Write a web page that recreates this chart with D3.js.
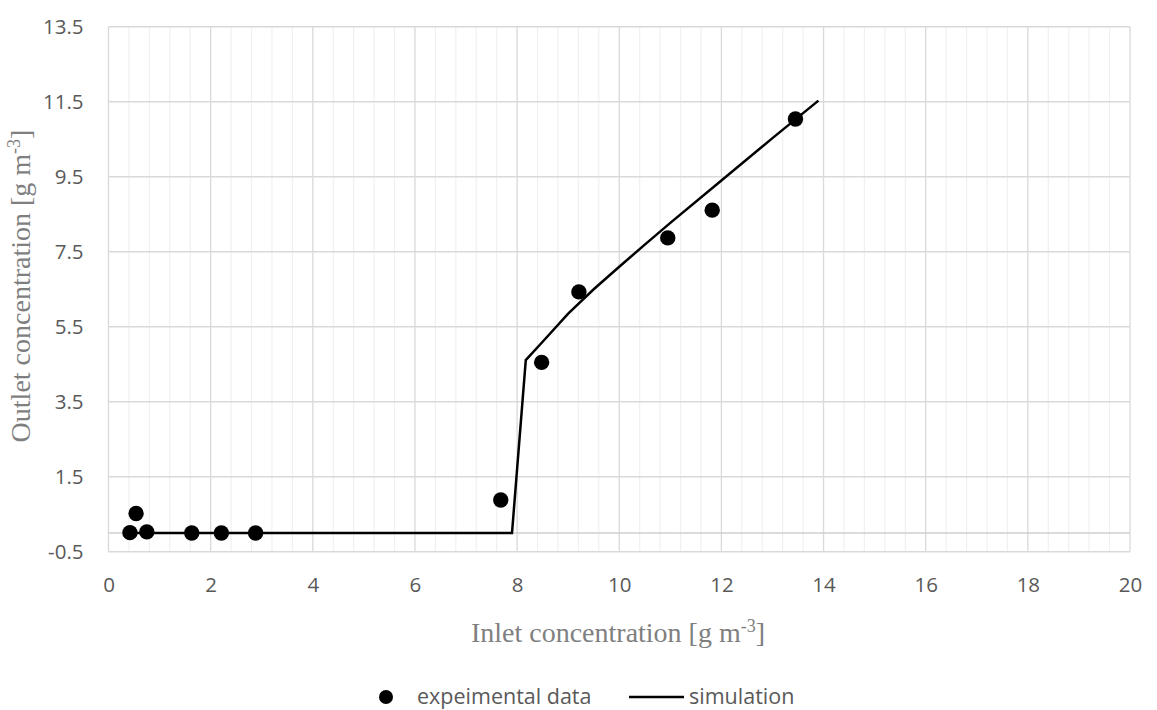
<!DOCTYPE html>
<html>
<head>
<meta charset="utf-8">
<script src="https://cdn.jsdelivr.net/npm/d3@7"></script>
<style>
  html, body { margin: 0; padding: 0; background: #fff; }
  svg { display: block; }
</style>
</head>
<body>
<svg id="chart" width="1157" height="710"></svg>
<script>
// Experimental measurements: inlet vs outlet concentration (g m^-3)
const expInlet  = [0.42, 0.54, 0.75, 1.63, 2.21, 2.88, 7.68, 8.48, 9.21, 10.95, 11.82, 13.45];
const expOutlet = [0.01, 0.52, 0.03, 0.00, 0.00, 0.00, 0.88, 4.55, 6.43, 7.87, 8.61, 11.04];

// Model simulation curve
const simInlet  = [0.42, 7.90, 8.17, 8.50, 9.00, 9.50, 10.00, 10.50, 11.00, 12.00, 13.00, 13.90];
const simOutlet = [0.00, 0.00, 4.61, 5.10, 5.85, 6.50, 7.10, 7.69, 8.27, 9.40, 10.53, 11.53];

// Axis ticks
const xTicks = [0, 2, 4, 6, 8, 10, 12, 14, 16, 18, 20];
const yTicks = [-0.5, 1.5, 3.5, 5.5, 7.5, 9.5, 11.5, 13.5];
const xMinorStep = 0.4;

const svg = d3.select("#chart");
const x = d3.scaleLinear().domain([0, 20]).range([108.5, 1130]);
const y = d3.scaleLinear().domain([-0.5, 13.5]).range([551.75, 26.75]);

const tickFont = "'Open Sans', 'Noto Sans', sans-serif";
const serif = "'Liberation Serif', 'Times New Roman', serif";
// Plain hyphen for negative numbers
const fmtY = d => d3.format(".1f")(d).replace("\u2212", "-");

// Minor vertical gridlines
const minor = d3.range(0, 20 + 1e-9, xMinorStep).filter(v => Math.abs(v / 2 - Math.round(v / 2)) > 1e-6);
svg.append("g").selectAll("line").data(minor).join("line")
  .attr("x1", d => x(d)).attr("x2", d => x(d))
  .attr("y1", y(13.5)).attr("y2", y(-0.5))
  .attr("stroke", "#f0f0f0").attr("stroke-width", 1.2);

// Major gridlines
svg.append("g").selectAll("line").data(xTicks).join("line")
  .attr("x1", d => x(d)).attr("x2", d => x(d))
  .attr("y1", y(13.5)).attr("y2", y(-0.5))
  .attr("stroke", "#d9d9d9").attr("stroke-width", 1.3);
svg.append("g").selectAll("line").data(yTicks).join("line")
  .attr("x1", x(0)).attr("x2", x(20))
  .attr("y1", d => y(d)).attr("y2", d => y(d))
  .attr("stroke", "#d9d9d9").attr("stroke-width", 1.3);

// Horizontal axis line crossing at zero
svg.append("line")
  .attr("x1", x(0)).attr("x2", x(20))
  .attr("y1", y(0)).attr("y2", y(0))
  .attr("stroke", "#cfcfcf").attr("stroke-width", 1.5);

// Tick labels via d3 axes (lines hidden)
const xAxis = svg.append("g")
  .attr("transform", `translate(0,${y(-0.5) + 20})`)
  .call(d3.axisBottom(x).tickValues(xTicks).tickSize(0).tickFormat(d3.format("d")));
const yAxis = svg.append("g")
  .attr("transform", `translate(${x(0) - 22},0)`)
  .call(d3.axisLeft(y).tickValues(yTicks).tickSize(0).tickFormat(fmtY));
[xAxis, yAxis].forEach(a => {
  a.select(".domain").remove();
  a.selectAll("text")
    .attr("fill", "#595959")
    .style("font-family", tickFont)
    .style("font-size", "20.5px");
});
xAxis.selectAll("text").attr("dy", "0.85em");
yAxis.selectAll("text").attr("dy", "0.35em");

// Simulation line
const simData = simInlet.map((v, i) => [v, simOutlet[i]]);
svg.append("path")
  .datum(simData)
  .attr("fill", "none")
  .attr("stroke", "#000")
  .attr("stroke-width", 2.5)
  .attr("stroke-linejoin", "miter")
  .attr("d", d3.line().x(d => x(d[0])).y(d => y(d[1])));

// Experimental points
svg.append("g").selectAll("circle")
  .data(expInlet.map((v, i) => [v, expOutlet[i]]))
  .join("circle")
  .attr("cx", d => x(d[0])).attr("cy", d => y(d[1]))
  .attr("r", 7.7).attr("fill", "#000");

// Axis titles
const xt = svg.append("text")
  .attr("x", 618).attr("y", 642)
  .attr("text-anchor", "middle")
  .attr("fill", "#7f7f7f")
  .style("font-family", serif)
  .style("font-size", "28px");
xt.append("tspan").text("Inlet concentration [g m");
xt.append("tspan").attr("dy", -10).style("font-size", "18px").text("-3");
xt.append("tspan").attr("dy", 10).text("]");

const yt = svg.append("text")
  .attr("transform", "translate(30,286) rotate(-90)")
  .attr("text-anchor", "middle")
  .attr("fill", "#7f7f7f")
  .style("font-family", serif)
  .style("font-size", "28px");
yt.append("tspan").text("Outlet concentration [g m");
yt.append("tspan").attr("dy", -10).style("font-size", "18px").text("-3");
yt.append("tspan").attr("dy", 10).text("]");

// Legend
const lg = svg.append("g");
lg.append("circle").attr("cx", 386).attr("cy", 697).attr("r", 7).attr("fill", "#000");
lg.append("text").attr("x", 417).attr("y", 704)
  .attr("fill", "#595959").style("font-family", tickFont).style("font-size", "21.5px")
  .text("expeimental data");
lg.append("line").attr("x1", 629).attr("x2", 684).attr("y1", 697).attr("y2", 697)
  .attr("stroke", "#000").attr("stroke-width", 2.5);
lg.append("text").attr("x", 689).attr("y", 704)
  .attr("fill", "#595959").style("font-family", tickFont).style("font-size", "21.5px")
  .text("simulation");
</script>
</body>
</html>
